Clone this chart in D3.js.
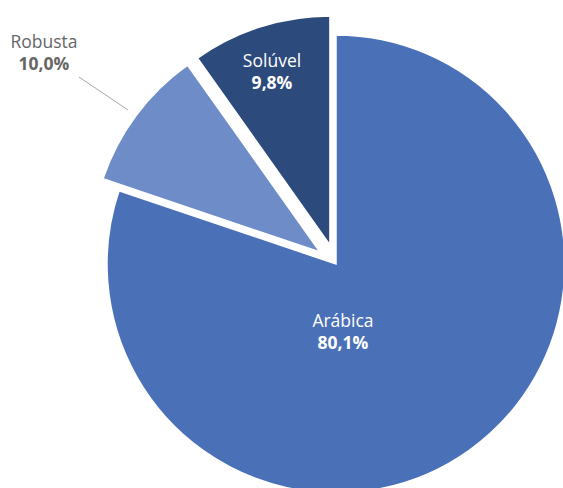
<!DOCTYPE html>
<html>
<head>
<meta charset="utf-8">
<script src="https://d3js.org/d3.v7.min.js"></script>
<style>
  body { margin: 0; background: #fff; }
  text { font-family: "Open Sans", sans-serif; font-size: 17.5px; }
</style>
</head>
<body>
<script>
var categories = ["Arábica", "Robusta", "Solúvel"];
var values = [80.1, 10.0, 9.8];
var labels = ["80,1%", "10,0%", "9,8%"];
var colors = ["#4a70b7", "#6e8cc8", "#2d4a7c"];
var explode = [0, 20, 20];

var width = 563, height = 488;
var cx = 336, cy = 264, r = 229;

var svg = d3.select("body").append("svg")
    .attr("width", width)
    .attr("height", height);

var pie = d3.pie().sort(null).value(function (d) { return d; });
var arcs = pie(values);
var arc = d3.arc().innerRadius(0).outerRadius(r);

var g = svg.append("g").attr("transform", "translate(" + cx + "," + cy + ")");

function offset(d, i) {
    var a = (d.startAngle + d.endAngle) / 2;
    return [Math.sin(a) * explode[i], -Math.cos(a) * explode[i]];
}

var slices = g.selectAll("g.slice").data(arcs).enter().append("g")
    .attr("class", "slice")
    .attr("transform", function (d, i) {
        var o = offset(d, i);
        return "translate(" + o[0] + "," + o[1] + ")";
    });

slices.append("path")
    .attr("d", arc)
    .attr("fill", function (d, i) { return colors[i]; })
    .attr("stroke", "#fff")
    .attr("stroke-width", 1.5);

// inside labels: Arábica and Solúvel
var labelPos = [[7, 63], null, [-64, -197]];
slices.each(function (d, i) {
    if (!labelPos[i]) return;
    var x = labelPos[i][0] - offset(d, i)[0];
    var t = d3.select(this).append("text")
        .attr("text-anchor", "middle")
        .attr("fill", "#fff")
        .attr("y", labelPos[i][1] - offset(d, i)[1]);
    t.append("tspan").attr("x", x).text(categories[i]);
    t.append("tspan").attr("x", x).attr("dy", 22)
        .attr("font-weight", "bold").text(labels[i]);
});

// Robusta outside label with leader line
svg.append("line")
    .attr("x1", 79).attr("y1", 77)
    .attr("x2", 128).attr("y2", 110)
    .attr("stroke", "#a6a6a6")
    .attr("stroke-width", 1);

var rt = svg.append("text")
    .attr("text-anchor", "middle")
    .attr("fill", "#666")
    .attr("y", 48);
rt.append("tspan").attr("x", 44).text(categories[1]);
rt.append("tspan").attr("x", 44).attr("dy", 22).attr("font-weight", "bold").text(labels[1]);
</script>
</body>
</html>
